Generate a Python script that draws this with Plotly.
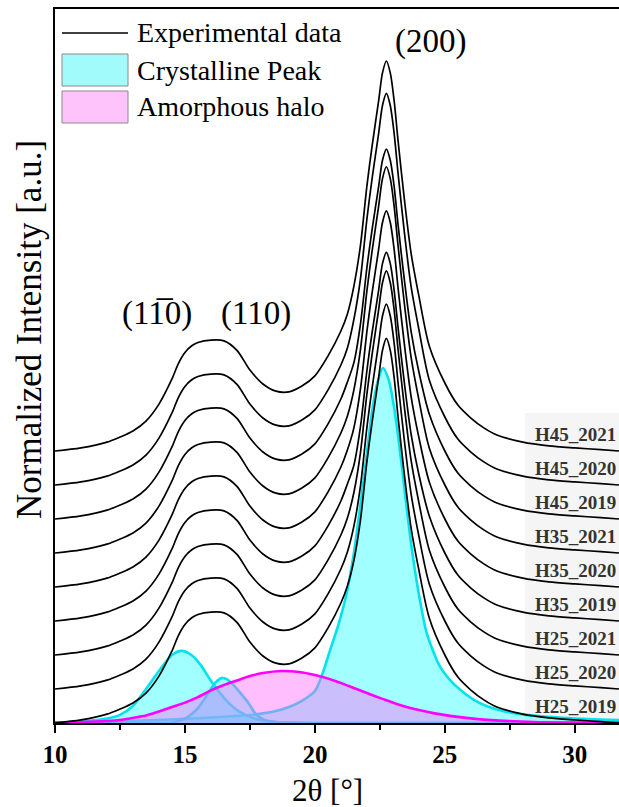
import plotly.graph_objects as go

# ---------------- data ----------------
SAMPLES = ["H25_2019", "H25_2020", "H25_2021", "H35_2019", "H35_2020",
           "H35_2021", "H45_2019", "H45_2020", "H45_2021"]
OFFSETS = [0.0, 0.1, 0.2, 0.3, 0.4, 0.5, 0.6, 0.7, 0.8]

# experimental profile: shared low-angle part, sample specific (200) region, shared tail
X_LEFT = [10, 11, 12, 12.5, 13, 13.5, 14, 14.5, 14.75, 15, 15.25, 15.5, 16, 16.5,
          17, 17.5, 18, 18.5, 19, 19.5, 20, 20.5, 21, 21.25]
Y_LEFT = [0.000, 0.009, 0.026, 0.041, 0.059, 0.088, 0.138, 0.212, 0.258, 0.290,
          0.309, 0.319, 0.326, 0.324, 0.296, 0.238, 0.197, 0.176, 0.174, 0.191,
          0.221, 0.279, 0.353, 0.403]
X_PEAK = [21.5, 21.75, 22, 22.2, 22.45, 22.6, 22.75, 22.9, 23.05, 23.2, 23.45, 23.7, 24]
Y_PEAK = {
    "H25_2019": [0.478, 0.595, 0.768, 0.884, 1.015, 1.096, 1.131, 1.096, 1.015, 0.899, 0.725, 0.574, 0.450],
    "H25_2020": [0.479, 0.595, 0.769, 0.885, 1.016, 1.097, 1.132, 1.097, 1.016, 0.900, 0.725, 0.574, 0.450],
    "H25_2021": [0.478, 0.594, 0.767, 0.884, 1.014, 1.095, 1.130, 1.095, 1.014, 0.898, 0.724, 0.573, 0.449],
    "H35_2019": [0.458, 0.570, 0.736, 0.848, 0.972, 1.051, 1.084, 1.051, 0.972, 0.862, 0.695, 0.550, 0.431],
    "H35_2020": [0.468, 0.581, 0.751, 0.865, 0.992, 1.072, 1.106, 1.072, 0.992, 0.879, 0.709, 0.561, 0.440],
    "H35_2021": [0.480, 0.597, 0.771, 0.888, 1.019, 1.101, 1.136, 1.101, 1.019, 0.903, 0.728, 0.576, 0.451],
    "H45_2019": [0.460, 0.572, 0.739, 0.851, 0.977, 1.055, 1.088, 1.055, 0.977, 0.865, 0.698, 0.552, 0.433],
    "H45_2020": [0.487, 0.605, 0.782, 0.901, 1.033, 1.116, 1.152, 1.116, 1.033, 0.916, 0.738, 0.584, 0.458],
    "H45_2021": [0.485, 0.603, 0.779, 0.897, 1.029, 1.112, 1.147, 1.112, 1.029, 0.912, 0.735, 0.582, 0.456],
}
X_RIGHT = [24.4, 25, 25.5, 26, 26.5, 27, 28, 29, 30, 31, 31.7]
Y_RIGHT = [0.309, 0.200, 0.135, 0.097, 0.068, 0.047, 0.026, 0.015, 0.009, 0.004, 0.000]

# deconvoluted components (bottom sample)
X_P200 = [10, 12, 14, 15, 16, 17, 17.7, 18.5, 19, 19.5, 20, 20.3, 20.6, 20.9, 21.2,
          21.5, 21.8, 22.0, 22.2, 22.4, 22.62, 22.85, 23.05, 23.27, 23.5, 23.75,
          24.04, 24.3, 24.8, 25.2, 25.6, 26.1, 26.6, 27.3, 28.1, 29, 30, 31, 31.7]
Y_P200 = [0.0015, 0.004, 0.009, 0.012, 0.016, 0.021, 0.025, 0.035, 0.047, 0.065,
          0.094, 0.147, 0.218, 0.288, 0.374, 0.500, 0.671, 0.794, 0.918, 1.000,
          1.044, 1.006, 0.926, 0.803, 0.653, 0.500, 0.362, 0.265, 0.168, 0.126,
          0.097, 0.069, 0.050, 0.034, 0.024, 0.018, 0.013, 0.010, 0.009]
X_P1 = [10, 11, 11.5, 12, 12.5, 13, 13.5, 14, 14.5, 14.87, 15.25, 15.6, 16, 16.5,
        17, 17.5, 18, 18.5, 19, 20, 31.7]
Y_P1 = [0.0015, 0.004, 0.008, 0.013, 0.024, 0.050, 0.100, 0.153, 0.200, 0.212,
        0.200, 0.171, 0.124, 0.074, 0.038, 0.018, 0.007, 0.003, 0.001, 0.0, 0.0]
X_P2 = [10, 14, 14.5, 15, 15.25, 15.5, 15.75, 16, 16.2, 16.41, 16.6, 16.9, 17.2,
        17.44, 17.7, 17.9, 18.3, 18.8, 19.5, 31.7]
Y_P2 = [0.0, 0.0, 0.0015, 0.013, 0.026, 0.044, 0.071, 0.100, 0.121, 0.132, 0.129,
        0.109, 0.082, 0.059, 0.029, 0.015, 0.004, 0.001, 0.0, 0.0]
X_AM = [10, 11, 12, 12.5, 13, 13.5, 14, 14.5, 15, 15.5, 16, 16.5, 17, 17.5, 18,
        18.7, 19.4, 20, 20.7, 21.3, 22, 22.6, 23.27, 24, 24.55, 25.2, 25.83, 26.5,
        27.1, 28.4, 30, 31.7]
Y_AM = [0.0015, 0.003, 0.006, 0.009, 0.015, 0.022, 0.034, 0.047, 0.060, 0.076,
        0.096, 0.112, 0.125, 0.138, 0.147, 0.153, 0.150, 0.141, 0.126, 0.109,
        0.088, 0.071, 0.053, 0.038, 0.029, 0.021, 0.015, 0.010, 0.007, 0.003,
        0.0015, 0.001]

PEAK_LABELS = ["(11\u03050)", "(110)", "(200)"]
LEGEND_LABELS = ["Experimental data", "Crystalline Peak", "Amorphous halo"]
X_TICKS = [10, 15, 20, 25, 30]

# ---------------- styling ----------------
W, H = 619, 807
ML, MR, MT, MB = 55, 0, 9, 84
SERIF = "Liberation Serif"
CYAN = "#00e3ec"
CYAN_FILL = "rgba(0,255,255,0.37)"
MAG = "#ff00ff"
MAG_FILL = "rgba(255,110,250,0.45)"


def px(xp):
    return (xp - ML) / (W - ML - MR)


def py(yp):
    return (H - MB - yp) / (H - MT - MB)


fig = go.Figure()

for xs, ys in [(X_P200, Y_P200), (X_P1, Y_P1), (X_P2, Y_P2)]:
    fig.add_trace(go.Scatter(x=xs, y=ys, mode="lines", fill="tozeroy",
                             fillcolor=CYAN_FILL,
                             line=dict(color=CYAN, width=2.6, shape="spline", smoothing=0.8),
                             showlegend=False, hoverinfo="skip"))
fig.add_trace(go.Scatter(x=X_AM, y=Y_AM, mode="lines", fill="tozeroy",
                         fillcolor=MAG_FILL,
                         line=dict(color="rgba(0,0,0,0)", width=0, shape="spline", smoothing=0.8),
                         showlegend=False, hoverinfo="skip"))
fig.add_trace(go.Scatter(x=X_AM, y=Y_AM, mode="lines",
                         line=dict(color=MAG, width=2.6, shape="spline", smoothing=0.8),
                         showlegend=False, hoverinfo="skip"))

x_exp = X_LEFT + X_PEAK + X_RIGHT
for name, off in zip(SAMPLES, OFFSETS):
    ys = [v + off for v in (Y_LEFT + Y_PEAK[name] + Y_RIGHT)]
    fig.add_trace(go.Scatter(x=x_exp, y=ys, mode="lines", name=name,
                             line=dict(color="black", width=1.7, shape="spline", smoothing=0.8),
                             showlegend=False))

shapes = []
# light background behind the sample labels
shapes.append(dict(type="rect", xref="paper", yref="paper", x0=px(525), x1=px(625),
                   y0=py(722), y1=py(413), fillcolor="#f5f5f5", line=dict(width=0),
                   layer="below"))
# legend
shapes.append(dict(type="line", xref="paper", yref="paper", x0=px(62), x1=px(128),
                   y0=py(33), y1=py(33), line=dict(color="black", width=1.6)))
shapes.append(dict(type="rect", xref="paper", yref="paper", x0=px(62), x1=px(128),
                   y0=py(86), y1=py(54), fillcolor="#a2fbfb",
                   line=dict(color="#8a8a8a", width=1)))
shapes.append(dict(type="rect", xref="paper", yref="paper", x0=px(62), x1=px(128),
                   y0=py(123), y1=py(91), fillcolor="#ffc3fc",
                   line=dict(color="#8a8a8a", width=1)))

ann = []
for lab, yp in zip(LEGEND_LABELS, [33, 70, 107]):
    ann.append(dict(text=lab, xref="paper", yref="paper", x=px(135), y=py(yp),
                    xanchor="left", yanchor="middle", showarrow=False,
                    font=dict(family=SERIF, size=28, color="black")))
for lab, (xp, yp) in zip(PEAK_LABELS, [(157, 313), (256, 313), (430, 42)]):
    ann.append(dict(text=lab, xref="paper", yref="paper", x=px(xp), y=py(yp),
                    xanchor="center", yanchor="middle", showarrow=False,
                    font=dict(family=SERIF, size=33, color="black")))
for name, off in zip(SAMPLES, OFFSETS):
    ann.append(dict(text="<b>" + name + "</b>", xref="x", yref="y", x=28.4, y=off + 0.05,
                    xanchor="left", yanchor="middle", showarrow=False,
                    font=dict(family=SERIF, size=19, color="#333333")))
ann.append(dict(text="Normalized Intensity [a.u.]", xref="paper", yref="paper",
                x=px(30), y=py(330), textangle=-90, showarrow=False,
                xanchor="center", yanchor="middle",
                font=dict(family=SERIF, size=35, color="black")))
ann.append(dict(text="2\u03b8 [\u00b0]", xref="paper", yref="paper",
                x=px(327), y=py(790), showarrow=False, xanchor="center", yanchor="middle",
                font=dict(family=SERIF, size=31, color="black")))

fig.update_layout(
    width=W, height=H, margin=dict(l=ML, r=MR, t=MT, b=MB),
    paper_bgcolor="white", plot_bgcolor="white",
    shapes=shapes, annotations=ann, showlegend=False,
    xaxis=dict(range=[10, 31.7], tickvals=X_TICKS, ticks="outside", ticklen=8,
               tickwidth=2, tickcolor="black", showline=True, linewidth=2,
               linecolor="black", mirror=True, showgrid=False, zeroline=False,
               tickfont=dict(family=SERIF, size=25, color="black", weight="bold"),
               minor=dict(dtick=2.5, tick0=10, ticks="outside", ticklen=5,
                          tickwidth=2, tickcolor="black", showgrid=False)),
    yaxis=dict(range=[0, 2.1], showticklabels=False, ticks="", showline=True,
               linewidth=2, linecolor="black", showgrid=False, zeroline=False),
)

fig.write_html("out.html")
